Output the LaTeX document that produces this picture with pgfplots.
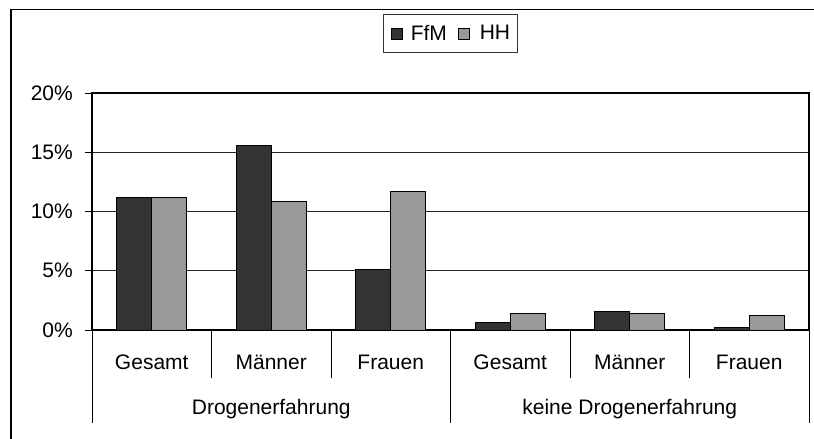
\documentclass[border=0pt]{standalone}
\usepackage{fontspec}
\setmainfont{Liberation Sans}
\usepackage{pgfplots}
\pgfplotsset{compat=1.18}
\definecolor{ffm}{HTML}{333333}
\definecolor{hh}{HTML}{999999}
\newcommand{\cf}{\fontsize{21}{24}\selectfont}
\begin{document}
\begin{tikzpicture}
\path[use as bounding box] (0,0) rectangle (814pt,-439pt);
\clip (0,0) rectangle (814pt,-439pt);
\draw[line width=1.5pt] (11pt,-445pt) -- (11pt,-9.5pt) -- (820pt,-9.5pt);
\begin{axis}[
  at={(92pt,-330pt)}, anchor=south west,
  scale only axis, width=717pt, height=237pt,
  xmin=-0.5, xmax=5.5, ymin=0, ymax=20,
  ytick={0,5,10,15,20},
  yticklabel={\pgfmathprintnumber{\tick}\%},
  ytick pos=left,
  xtick=\empty,
  ymajorgrids, grid style={black!85, line width=0.8pt},
  axis line style={line width=1.4pt},
  tick style={black, line width=1pt},
  major tick length=7pt, tick align=outside,
  yticklabel style={font=\cf, inner sep=0pt, anchor=east, xshift=-12pt},
  /pgf/number format/assume math mode=true,
  ybar=0pt, bar width=35pt,
  clip=false,
  legend style={at={(0.5,1.251)}, anchor=center, legend columns=2,
    draw=black!80, line width=0.8pt, font=\cf,
    inner xsep=7pt, inner ysep=11pt, nodes={inner sep=0pt},
    /tikz/column 1/.style={column sep=8pt},
    /tikz/column 2/.style={column sep=11pt},
    /tikz/column 3/.style={column sep=10pt}},
  legend image code/.code={\draw[#1, line width=0.9pt] (0pt,-5.5pt) rectangle (11pt,5.5pt);},
]
\addplot[fill=ffm, draw=black, line width=1pt] coordinates {(0,11.15) (1,15.56) (2,5.14) (3,0.67) (4,1.54) (5,0.25)};
\addplot[fill=hh, draw=black, line width=1pt] coordinates {(0,11.15) (1,10.81) (2,11.71) (3,1.40) (4,1.40) (5,1.26)};
\legend{FfM, HH}
\pgfplotsinvokeforeach{0,3}{
  \node[font=\cf, anchor=base] at (axis cs:#1,0) [yshift=-39pt] {Gesamt};
}
\pgfplotsinvokeforeach{1,4}{
  \node[font=\cf, anchor=base] at (axis cs:#1,0) [yshift=-39pt] {Männer};
}
\pgfplotsinvokeforeach{2,5}{
  \node[font=\cf, anchor=base] at (axis cs:#1,0) [yshift=-39pt] {Frauen};
}
\node[font=\cf, anchor=base] at (axis cs:1,0) [yshift=-84pt] {Drogenerfahrung};
\node[font=\cf, anchor=base] at (axis cs:4,0) [yshift=-84pt] {keine Drogenerfahrung};
\pgfplotsinvokeforeach{0.5,1.5,3.5,4.5}{
  \draw[line width=0.9pt] (axis cs:#1,0) -- ([yshift=-48pt]axis cs:#1,0);
}
\pgfplotsinvokeforeach{-0.5,2.5,5.5}{
  \draw[line width=0.9pt] (axis cs:#1,0) -- ([yshift=-93pt]axis cs:#1,0);
}
\end{axis}
\end{tikzpicture}
\end{document}
